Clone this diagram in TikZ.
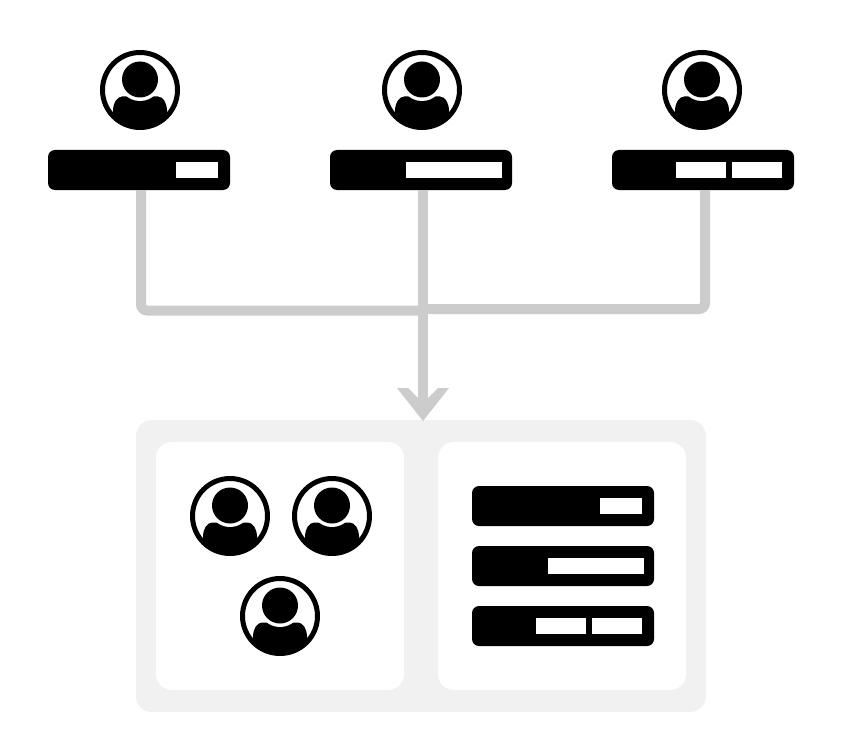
\documentclass[tikz,border=0pt]{standalone}
\usetikzlibrary{arrows.meta}
\definecolor{linegrey}{HTML}{CCCCCC}
\definecolor{panelgrey}{HTML}{F1F1F1}
\pgfdeclarearrow{
  name=ChevronHead,
  setup code={
    \pgfarrowssettipend{33pt}
    \pgfarrowssetbackend{0pt}
    \pgfarrowssetlineend{20pt}
    \pgfarrowssetvisualbackend{20pt}
    \pgfarrowsupperhullpoint{0pt}{26pt}
    \pgfarrowsupperhullpoint{33pt}{0pt}
  },
  drawing code={
    \pgfsetfillcolor{linegrey}
    \pgfpathmoveto{\pgfqpoint{33pt}{0pt}}
    \pgfpathlineto{\pgfqpoint{0pt}{26pt}}
    \pgfpathlineto{\pgfqpoint{0pt}{15pt}}
    \pgfpathlineto{\pgfqpoint{15pt}{0pt}}
    \pgfpathlineto{\pgfqpoint{0pt}{-15pt}}
    \pgfpathlineto{\pgfqpoint{0pt}{-26pt}}
    \pgfpathclose
    \pgfusepathqfill
  }
}
\tikzset{
  outerpanel/.style={fill=panelgrey,rounded corners=16pt,minimum width=570pt,minimum height=292pt,inner sep=0pt,outer sep=0pt},
  innerpanel/.style={fill=white,rounded corners=16pt,minimum width=248pt,minimum height=248pt,inner sep=0pt,outer sep=0pt},
  barbox/.style={fill=black,rounded corners=7pt,minimum width=182pt,minimum height=40pt,inner sep=0pt,outer sep=0pt},
  slotbox/.style={fill=white,minimum height=16pt,inner sep=0pt,outer sep=0pt},
  ringbox/.style={circle,draw=black,line width=5pt,fill=white,minimum size=75pt,inner sep=0pt,outer sep=0pt},
  conn/.style={draw=linegrey,line width=10pt,rounded corners=6pt},
  person/.pic={
    \node[ringbox] (-ring) at (0,0) {};
    \begin{scope}
      \clip (0,0) circle (37pt);
      \fill[black] (-27,40) -- (-27,20) .. controls (-26.5,12) and (-23,7) .. (-18,6.5)
        -- (18,6.5) .. controls (23,7) and (26.5,12) .. (27,20) -- (27,40) -- cycle;
      \fill[white] (0,-10.5) circle (21.5pt);
      \fill[black] (0,-10.5) circle (18pt);
    \end{scope}
  }
}
\begin{document}
\begin{tikzpicture}[x=1pt,y=-1pt]
\useasboundingbox (0,0) rectangle (850,754);
\fill[white] (0,0) rectangle (850,754);

% bottom panel
\node[outerpanel] (panel) at (421,566) {};
\node[innerpanel] (left) at (280,566) {};
\node[innerpanel] (right) at (562,566) {};

% people on top
\pic (t1) at (140,90) {person};
\pic (t2) at (422,90) {person};
\pic (t3) at (702,90) {person};

% bars on top
\node[barbox] (b1) at (139,170) {};
\node[slotbox,minimum width=42pt] (b1s) at (197,170) {};
\node[barbox] (b2) at (421,170) {};
\node[slotbox,minimum width=96pt] (b2s) at (454,170) {};
\node[barbox] (b3) at (703,170) {};
\node[slotbox,minimum width=50pt] (b3s) at (701,170) {};
\node[slotbox,minimum width=50pt] (b3t) at (757,170) {};

% people in panel
\pic (p1) at (230,516) {person};
\pic (p2) at (332,516) {person};
\pic (p3) at (280,616) {person};

% bars in panel
\node[barbox] (c1) at (563,506) {};
\node[slotbox,minimum width=42pt] (c1s) at (621,506) {};
\node[barbox] (c2) at (563,566) {};
\node[slotbox,minimum width=96pt] (c2s) at (596,566) {};
\node[barbox] (c3) at (563,626) {};
\node[slotbox,minimum width=50pt] (c3s) at (561,626) {};
\node[slotbox,minimum width=50pt] (c3t) at (617,626) {};

% connectors
\coordinate (joinl) at (423,310.5);
\coordinate (joinr) at (423,309);
\coordinate (tip) at (423,421);
\draw[conn] ([xshift=2pt]b1.south) |- (joinl);
\draw[conn] ([xshift=2pt]b3.south) |- (joinr);
\draw[draw=linegrey,line width=10pt,-{ChevronHead}] ([xshift=2pt]b2.south) -- (tip);
\end{tikzpicture}
\end{document}
